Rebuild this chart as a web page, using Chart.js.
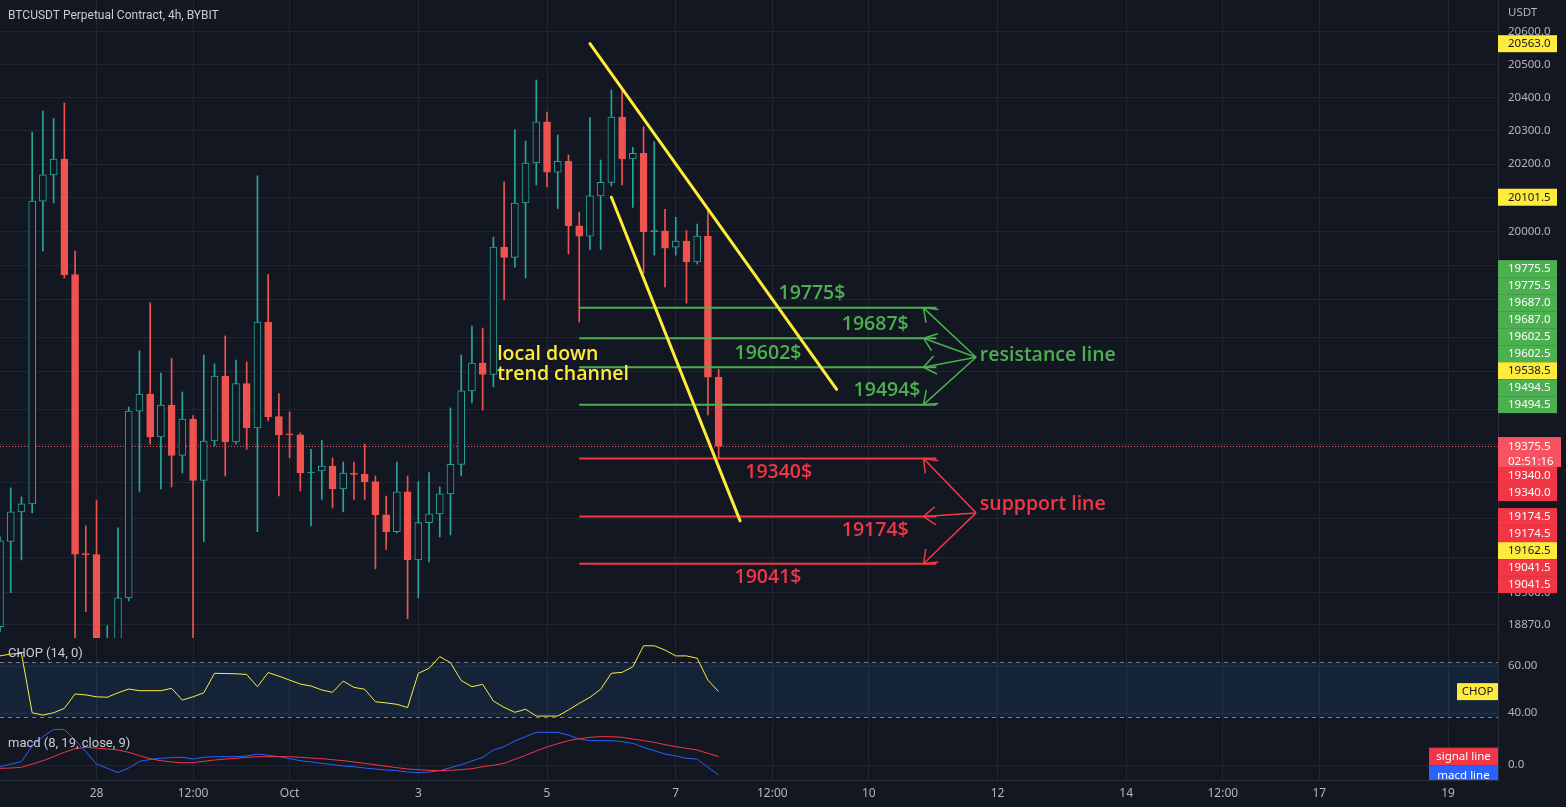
<!DOCTYPE html>
<html>
<head>
<meta charset="utf-8">
<script src="https://cdn.jsdelivr.net/npm/chart.js@4.4.1/dist/chart.umd.min.js"></script>
<style>
  html, body { margin: 0; padding: 0; background: #131722; }
  body { width: 1566px; height: 807px; position: relative; overflow: hidden; }
  canvas { position: absolute; left: 0; }
  #mainChart { top: 0; }
  #chopChart { top: 639px; }
  #macdChart { top: 727px; }
</style>
</head>
<body>
<canvas id="mainChart" width="1566" height="638"></canvas>
<canvas id="chopChart" width="1566" height="87"></canvas>
<canvas id="macdChart" width="1566" height="80"></canvas>
<script>
// 4h candles, index 0 = Sep 26 12:00
const candleOpen = [18865, 19104, 19188, 19210.5, 20090, 20168, 20215.5, 19873, 19069, 19067, 18790, 18825, 18945.5, 19476, 19525, 19401.5, 19493.5, 19348.5, 19453, 19277, 19390, 19577, 19387, 19555.5, 19427.5, 19734, 19460, 19408.5, 19407.5, 19298.5, 19304.5, 19318.5, 19253, 19298.5, 19294.5, 19274, 19179.5, 19132, 19244.5, 19052, 19157.5, 19182, 19239, 19323, 19534, 19615, 19581.5, 19954, 19923.5, 20084.5, 20203.5, 20326.5, 20176.5, 20208.5, 20016.5, 19986.5, 20105.5, 20145.5, 20341.5, 20215.5, 20232.5, 19999.5, 20002, 19953.5, 19972, 19910, 19986.5, 19573.5];
const candleHigh = [19117, 19256, 19230, 20296, 20359.5, 20337, 20383.5, 19942, 19148, 19220, 18867.5, 19142.5, 19487.5, 19650, 19790, 19586, 19628, 19531, 19463, 19638, 19612, 19693.5, 19623.5, 19618, 20165, 19873, 19526.5, 19473.5, 19413, 19366, 19391.5, 19341.5, 19330, 19330, 19381.5, 19290, 19233, 19330, 19290, 19274, 19299.5, 19259, 19485, 19638, 19722.5, 19716.5, 19983.5, 20147, 20302.5, 20269.5, 20453, 20356.5, 20287.5, 20227.5, 20057.5, 20340, 20212.5, 20423, 20429, 20250.5, 20312.5, 20267.5, 20065.5, 20042, 20002.5, 20022, 20068.5, 19596.5];
const candleLow = [18851, 18960, 19052, 19185, 19942, 20084.5, 19863, 18700, 18906.5, 18720, 18740, 18800, 18937, 19244.5, 19381.5, 19253, 19259, 19298.5, 18760, 19104, 19376, 19290, 19381.5, 19366, 19132, 19447.5, 19233, 19341.5, 19247.5, 19148, 19223, 19199, 19188, 19223, 19223, 19027, 19082, 19128.5, 18887, 18945.5, 19046.5, 19117, 19122.5, 19290, 19499.5, 19479, 19545.5, 19799.5, 19895, 19863, 20138, 20132, 20068, 19933.5, 19734, 19946.5, 19946.5, 20135, 20138, 20071.5, 19877.5, 19930.5, 19836.5, 19930, 19789.5, 19904, 19465, 19340];
const candleClose = [19106, 19188, 19210.5, 20090, 20168, 20215.5, 19873, 19068, 19067, 18790, 18825, 18945.5, 19476, 19525, 19401.5, 19493.5, 19348.5, 19453, 19277, 19390, 19577, 19387, 19555.5, 19427.5, 19734, 19460, 19407.5, 19407.5, 19298.5, 19300, 19318.5, 19253, 19298.5, 19294.5, 19274, 19179.5, 19132, 19244.5, 19052, 19157.5, 19182, 19239, 19323, 19534, 19615, 19581.5, 19954, 19923.5, 20084.5, 20203.5, 20326.5, 20176.5, 20208.5, 20016.5, 19986.5, 20105.5, 20145.5, 20341.5, 20215.5, 20232.5, 19999.5, 20002, 19950.5, 19972, 19910, 19986.5, 19573.5, 19375.5];

const chopValues = [64.3, 65.1, 65.4, 40.1, 39.1, 40.1, 42.0, 48.1, 47.7, 46.9, 46.7, 48.6, 50.2, 49.5, 49.5, 49.5, 50.5, 45.5, 46.9, 48.6, 56.9, 56.8, 56.7, 56.4, 51.2, 57.2, 55.7, 54.0, 52.3, 51.5, 49.8, 48.8, 53.6, 50.9, 50.1, 44.8, 44.3, 43.7, 42.3, 56.9, 59.0, 64.0, 61.4, 53.8, 51.2, 52.2, 45.1, 42.4, 40.3, 41.6, 38.7, 38.7, 38.7, 41.3, 44.1, 46.7, 50.1, 56.9, 57.3, 59.7, 68.6, 68.6, 66.8, 64.3, 64.3, 63.3, 54.0, 49.1];
const macdValues = [-4.2, 2.5, 8.3, 47.5, 70.8, 89, 89, 62.5, 33.3, 2.5, -8.3, -19, -7.5, 9.2, 14, 16.7, 18.3, 19.2, 15, 19.2, 20.8, 20.8, 20.8, 22.5, 27.5, 24.2, 20.8, 15.8, 10.8, 7.5, 4.2, 0.8, -2.5, -4.2, -7.5, -10, -12.5, -14.2, -17.5, -19, -17.5, -14.2, -6.7, 0.8, 10, 19.2, 37.5, 45.8, 60, 70.8, 81.7, 81.7, 81.7, 75, 65, 60.8, 60.8, 60.8, 58.3, 54.2, 44.2, 35.8, 27.5, 22.5, 16.7, 15, -5.8, -25];
const signalValues = [-8.3, -7.5, -5.8, 2.5, 10.8, 20.8, 31.7, 40.8, 44.2, 42.5, 40, 37.5, 31.7, 23.3, 15.8, 10.8, 7.5, 5.8, 5.8, 9.2, 12.5, 15, 16.7, 19.2, 20.8, 20.8, 20.8, 20.8, 19.2, 17.5, 15.8, 13.3, 10.8, 7.5, 4.2, 0.8, -3.3, -6.7, -10, -11.7, -13.3, -14.2, -13.3, -11.7, -9.2, -4.2, -0.8, 4.2, 14.2, 24.2, 35, 45, 53.3, 60.8, 65.8, 69.2, 70.8, 70.8, 69.2, 65, 60.8, 56.7, 50.8, 45.8, 41.7, 37.5, 29.2, 20.8];

const xTickIndex = [9, 18, 27, 39, 51, 63, 72, 81, 93, 105, 114, 123, 135];
const xTickLabels = ['28', '12:00', 'Oct', '3', '5', '7', '12:00', '10', '12', '14', '12:00', '17', '19'];
const priceTicks = [20600, 20500, 20400, 20300, 20200, 20100, 20000, 19900, 19800, 19690, 19590, 19480, 19380, 19270, 19170, 19060, 18960, 18870];
const chopTicks = [40, 60];
const macdTicks = [0];

const lastPrice = 19375.5;
const countdown = '02:51:16';

// drawings
const resistancePrices = [19775.5, 19687.0, 19602.5, 19494.5];
const resistanceTexts = ['19775$', '19687$', '19602$', '19494$'];
const resistanceTextAt = [75.7, 81.6, 71.6, 82.7];
const supportPrices = [19340.0, 19174.5, 19041.5];
const supportTexts = ['19340$', '19174$', '19041$'];
const supportTextAt = [72.6, 81.6, 71.6];
const levelStart = 54;
const levelEnd = 87.3;
const arrowTip = 86.1;
const resistanceHub = [91, 19631.5];
const supportHub = [91, 19185];
const resistanceTextPos = [91.35, 19636];
const supportTextPos = [91.35, 19210];
const trendUpper = [[55, 20563.0], [78, 19538.5]];
const trendLower = [[57, 20101.5], [69, 19162.5]];
const channelText = ['local down', 'trend channel'];
const channelTextPos = [46.35, 19623.6];

const BG = '#131722';
const GRID = 'rgba(42,46,57,0.7)';
const AXIS = '#b2b5be';
const FONT = '"Noto Sans", sans-serif';
const LABEL_FONT = 'Roboto, sans-serif';
const DRAW_FONT = '600 19.5px "Open Sans", sans-serif';
const UP = '#26a69a', DOWN = '#ef5350';
const GREEN = '#4caf50', RED = '#f23645', YELLOW = '#ffeb3b';

const isUp = candleClose.map((c, i) => c >= candleOpen[i]);

function xScale(showLabels) {
  return {
    type: 'linear', min: 0, max: 139.66, offset: false,
    afterBuildTicks: s => { s.ticks = xTickIndex.map(v => ({ value: v })); },
    afterFit: s => { s.height = showLabels ? 27 : 0; s.paddingLeft = 0; s.paddingRight = 0; },
    grid: { color: GRID, drawTicks: false, offset: false },
    border: { display: true, color: '#2a2e39' },
    ticks: {
      display: showLabels, color: AXIS, font: { family: FONT, size: 12 }, padding: 6,
      maxRotation: 0, autoSkip: false,
      callback: (v, i) => xTickLabels[i]
    }
  };
}

function yScale(type, min, max, tickList, digits) {
  return {
    type: type, position: 'right', min: min, max: max,
    afterBuildTicks: s => { s.ticks = tickList.map(v => ({ value: v })); },
    afterFit: s => { s.width = 68; s.paddingTop = 0; s.paddingBottom = 0; },
    grid: { color: GRID, drawTicks: false },
    border: { display: true, color: '#2a2e39' },
    ticks: {
      color: AXIS, font: { family: FONT, size: 11.5 }, padding: 10, crossAlign: 'near',
      callback: v => Number(v).toFixed(digits)
    }
  };
}

const baseOptions = {
  responsive: false, animation: false, events: [],
  layout: { padding: 0, autoPadding: false },
  plugins: { legend: { display: false }, tooltip: { enabled: false } }
};

function tag(ctx, x, y, w, h, bg, text, fg, align) {
  ctx.fillStyle = bg;
  ctx.fillRect(x, y - h / 2, w, h);
  ctx.fillStyle = fg;
  ctx.font = '11.5px ' + FONT;
  ctx.textBaseline = 'middle';
  ctx.textAlign = align || 'left';
  ctx.fillText(text, align === 'center' ? x + w / 2 : x + 10, y + 0.5);
}

function arrow(ctx, x0, y0, x1, y1, color) {
  const a = Math.atan2(y0 - y1, x0 - x1);
  ctx.strokeStyle = color;
  ctx.lineWidth = 1.5;
  ctx.beginPath();
  ctx.moveTo(x0, y0);
  ctx.lineTo(x1, y1);
  [-0.65, 0.65].forEach(s => {
    ctx.moveTo(x1, y1);
    ctx.lineTo(x1 + 15 * Math.cos(a + s), y1 + 15 * Math.sin(a + s));
  });
  ctx.stroke();
}

const mainOverlay = {
  id: 'mainOverlay',
  beforeDatasetsDraw(chart) {
    const { ctx, chartArea, scales } = chart;
    const y = Math.round(scales.y.getPixelForValue(lastPrice)) + 0.5;
    ctx.save();
    ctx.strokeStyle = '#f7525f';
    ctx.lineWidth = 1;
    ctx.setLineDash([1, 2]);
    ctx.beginPath();
    ctx.moveTo(chartArea.left, y);
    ctx.lineTo(chartArea.right, y);
    ctx.stroke();
    ctx.restore();
  },
  afterDatasetsDraw(chart) {
    const { ctx, chartArea, scales } = chart;
    const px = v => scales.x.getPixelForValue(v);
    const py = v => scales.y.getPixelForValue(v);
    ctx.save();
    ctx.beginPath();
    ctx.rect(chartArea.left, chartArea.top, chartArea.right - chartArea.left, chartArea.bottom - chartArea.top);
    ctx.clip();

    const levels = (prices, color) => {
      ctx.strokeStyle = color;
      ctx.lineWidth = 2;
      prices.forEach(p => {
        ctx.beginPath();
        ctx.moveTo(px(levelStart), py(p));
        ctx.lineTo(px(levelEnd), py(p));
        ctx.stroke();
      });
    };
    levels(resistancePrices, GREEN);
    levels(supportPrices, RED);

    resistancePrices.forEach(p => arrow(ctx, px(resistanceHub[0]), py(resistanceHub[1]), px(arrowTip), py(p), GREEN));
    supportPrices.forEach(p => arrow(ctx, px(supportHub[0]), py(supportHub[1]), px(arrowTip), py(p), RED));

    ctx.strokeStyle = YELLOW;
    ctx.lineWidth = 3;
    ctx.lineCap = 'round';
    [trendUpper, trendLower].forEach(t => {
      ctx.beginPath();
      ctx.moveTo(px(t[0][0]), py(t[0][1]));
      ctx.lineTo(px(t[1][0]), py(t[1][1]));
      ctx.stroke();
    });

    ctx.font = DRAW_FONT;
    ctx.textAlign = 'center';
    ctx.textBaseline = 'middle';
    ctx.fillStyle = GREEN;
    resistancePrices.forEach((p, i) => ctx.fillText(resistanceTexts[i], px(resistanceTextAt[i]), py(p) - 14));
    ctx.fillStyle = RED;
    supportPrices.forEach((p, i) => ctx.fillText(supportTexts[i], px(supportTextAt[i]), py(p) + 14));

    ctx.textAlign = 'left';
    ctx.fillStyle = GREEN;
    ctx.fillText('resistance line', px(resistanceTextPos[0]), py(resistanceTextPos[1]));
    ctx.fillStyle = RED;
    ctx.fillText('suppport line', px(supportTextPos[0]), py(supportTextPos[1]));

    ctx.fillStyle = YELLOW;
    ctx.textBaseline = 'alphabetic';
    channelText.forEach((t, i) => ctx.fillText(t, px(channelTextPos[0]), py(channelTextPos[1]) + i * 20));
    ctx.restore();
  },
  afterDraw(chart) {
    const { ctx, chartArea, scales } = chart;
    const py = v => scales.y.getPixelForValue(v);
    ctx.save();
    ctx.font = '12px ' + LABEL_FONT;
    ctx.fillStyle = '#c9ccd4';
    ctx.textBaseline = 'middle';
    ctx.textAlign = 'left';
    ctx.fillText('BTCUSDT Perpetual Contract, 4h, BYBIT', 8, 16);
    ctx.font = '11.5px ' + FONT;
    ctx.fillStyle = AXIS;
    ctx.fillText('USDT', chartArea.right + 10, 13);

    // price scale labels of the drawings, stacked away from the last price label
    const labels = [];
    trendUpper.concat(trendLower).forEach(pt => labels.push({ p: pt[1], bg: YELLOW, fg: '#131722' }));
    resistancePrices.forEach(p => { labels.push({ p, bg: GREEN, fg: '#fff' }); labels.push({ p, bg: GREEN, fg: '#fff' }); });
    supportPrices.forEach(p => { labels.push({ p, bg: RED, fg: '#fff' }); labels.push({ p, bg: RED, fg: '#fff' }); });

    const h = 17;
    const yLast = py(lastPrice);
    let edge = yLast - 9;
    labels.filter(l => l.p > lastPrice).sort((a, b) => a.p - b.p).forEach(l => {
      l.y = Math.min(py(l.p), edge - h / 2);
      edge = l.y - h / 2;
    });
    edge = yLast + 21;
    labels.filter(l => l.p <= lastPrice).sort((a, b) => b.p - a.p).forEach(l => {
      l.y = Math.max(py(l.p), edge + h / 2);
      edge = l.y + h / 2;
    });
    const x0 = chartArea.right;
    labels.forEach(l => tag(ctx, x0, l.y, 59, h, l.bg, l.p.toFixed(1), l.fg));

    ctx.fillStyle = '#f7525f';
    ctx.fillRect(x0, yLast - 9, 63, 30);
    ctx.fillStyle = '#fff';
    ctx.font = '11.5px ' + FONT;
    ctx.textAlign = 'left';
    ctx.fillText(lastPrice.toFixed(1), x0 + 10, yLast + 0.5);
    ctx.fillText(countdown, x0 + 10, yLast + 15.5);
    ctx.restore();
  }
};

new Chart(document.getElementById('mainChart'), {
  type: 'bar',
  data: {
    datasets: [
      {
        label: 'wick',
        data: candleLow.map((l, i) => ({ x: i, y: [l, candleHigh[i]] })),
        backgroundColor: isUp.map(u => u ? UP : DOWN),
        borderWidth: 0, barThickness: 1, grouped: false, order: 2
      },
      {
        label: 'body',
        data: candleOpen.map((o, i) => ({ x: i, y: [o, candleClose[i]] })),
        backgroundColor: isUp.map((u, i) => u ? (Math.abs(candleClose[i] - candleOpen[i]) < 3 ? UP : BG) : DOWN),
        borderColor: isUp.map(u => u ? UP : DOWN),
        borderWidth: 1, borderSkipped: false, barThickness: 7, minBarLength: 1,
        grouped: false, order: 1
      }
    ]
  },
  options: Object.assign({}, baseOptions, {
    scales: {
      x: xScale(false),
      y: yScale('logarithmic', 18833.4, 20696.3, priceTicks, 1)
    }
  }),
  plugins: [mainOverlay]
});

const chopOverlay = {
  id: 'chopOverlay',
  beforeDatasetsDraw(chart) {
    const { ctx, chartArea, scales } = chart;
    const yTop = scales.y.getPixelForValue(61.8);
    const yBot = scales.y.getPixelForValue(38.2);
    ctx.save();
    ctx.fillStyle = 'rgba(33,150,243,0.1)';
    ctx.fillRect(chartArea.left, yTop, chartArea.right - chartArea.left, yBot - yTop);
    ctx.strokeStyle = '#787b86';
    ctx.lineWidth = 1;
    ctx.setLineDash([4, 4]);
    [yTop, yBot].forEach(y => {
      ctx.beginPath();
      ctx.moveTo(chartArea.left, Math.round(y) + 0.5);
      ctx.lineTo(chartArea.right, Math.round(y) + 0.5);
      ctx.stroke();
    });
    ctx.restore();
  },
  afterDraw(chart) {
    const { ctx, chartArea, scales } = chart;
    ctx.save();
    ctx.font = '13px ' + LABEL_FONT;
    ctx.fillStyle = '#c9ccd4';
    ctx.textBaseline = 'middle';
    ctx.fillText('CHOP (14, 0)', 8, 15);
    const y = scales.y.getPixelForValue(chopValues[chopValues.length - 1]);
    tag(ctx, chartArea.right - 41, y, 41, 17, YELLOW, 'CHOP', '#131722', 'center');
    ctx.restore();
  }
};

new Chart(document.getElementById('chopChart'), {
  type: 'line',
  data: {
    datasets: [{
      label: 'CHOP',
      data: chopValues.map((v, i) => ({ x: i, y: v })),
      borderColor: YELLOW, borderWidth: 1, pointRadius: 0, tension: 0
    }]
  },
  options: Object.assign({}, baseOptions, {
    scales: {
      x: xScale(false),
      y: yScale('linear', 34.47, 71.49, chopTicks, 2)
    }
  }),
  plugins: [chopOverlay]
});

const macdOverlay = {
  id: 'macdOverlay',
  afterDraw(chart) {
    const { ctx, chartArea, scales } = chart;
    ctx.save();
    ctx.font = '13px ' + LABEL_FONT;
    ctx.fillStyle = '#c9ccd4';
    ctx.textBaseline = 'middle';
    ctx.fillText('macd (8, 19, close, 9)', 8, 17);
    ctx.beginPath();
    ctx.rect(chartArea.left, chartArea.top, chartArea.right - chartArea.left, chartArea.bottom - chartArea.top);
    ctx.clip();
    const n = macdValues.length - 1;
    tag(ctx, chartArea.right - 69, scales.y.getPixelForValue(signalValues[n]), 69, 18, RED, 'signal line', '#fff', 'center');
    tag(ctx, chartArea.right - 69, scales.y.getPixelForValue(macdValues[n]), 69, 18, '#2962ff', 'macd line', '#fff', 'center');
    ctx.restore();
  }
};

new Chart(document.getElementById('macdChart'), {
  type: 'line',
  data: {
    datasets: [
      {
        label: 'signal line',
        data: signalValues.map((v, i) => ({ x: i, y: v })),
        borderColor: RED, borderWidth: 1, pointRadius: 0, tension: 0
      },
      {
        label: 'macd line',
        data: macdValues.map((v, i) => ({ x: i, y: v })),
        borderColor: '#2962ff', borderWidth: 1, pointRadius: 0, tension: 0
      }
    ]
  },
  options: Object.assign({}, baseOptions, {
    scales: {
      x: xScale(true),
      y: yScale('linear', -37.5, 95, macdTicks, 1)
    }
  }),
  plugins: [macdOverlay]
});
</script>
</body>
</html>
